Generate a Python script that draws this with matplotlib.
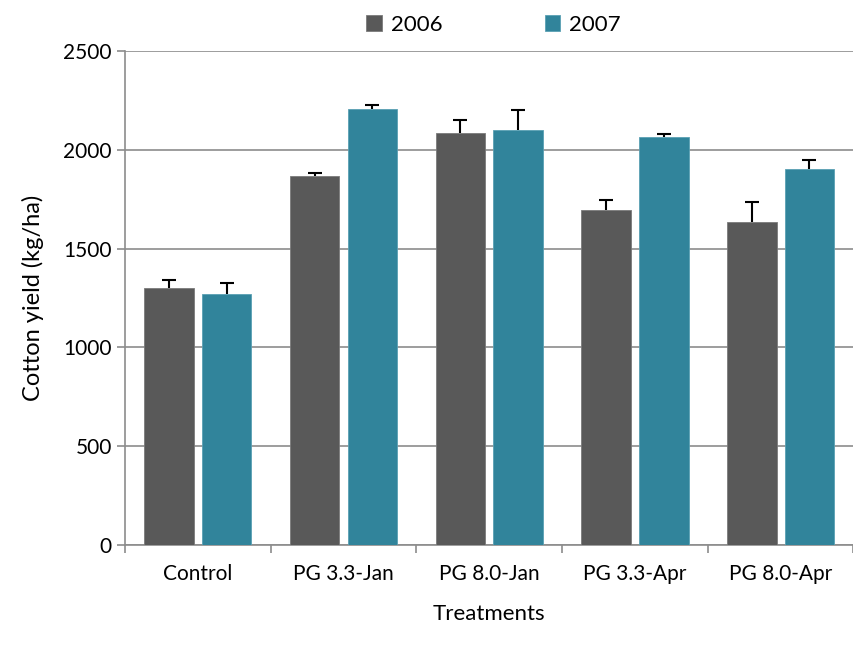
import matplotlib.pyplot as plt
import numpy as np

plt.rcParams['font.family'] = ['Lato', 'DejaVu Sans']

treatments = ["Control", "PG 3.3-Jan", "PG 8.0-Jan", "PG 3.3-Apr", "PG 8.0-Apr"]
yield_2006 = [1300, 1867, 2085, 1695, 1635]
yield_2007 = [1270, 2206, 2100, 2065, 1903]
err_2006 = [40, 15, 65, 50, 100]
err_2007 = [55, 20, 100, 15, 45]

fig = plt.figure(figsize=(8.54, 6.45), dpi=100)
ax = fig.add_axes([0.1464, 0.155, 0.853, 0.766])

x = np.arange(len(treatments))
w = 0.34
off = w / 2 + 0.028
ekw = dict(ecolor="black", elinewidth=1.5, capthick=1.5)
b1 = ax.bar(x - off, yield_2006, w, color="#595959", edgecolor="#7a7a7a", linewidth=0.6,
            yerr=[np.zeros(len(x)), err_2006], capsize=5, error_kw=ekw, label="2006", zorder=3)
b2 = ax.bar(x + off, yield_2007, w, color="#31849B", edgecolor="#5aa0b3", linewidth=0.6,
            yerr=[np.zeros(len(x)), err_2007], capsize=5, error_kw=ekw, label="2007", zorder=3)
# only the upper cap
for b in (b1, b2):
    b.errorbar.lines[1][0].set_visible(False)

ax.set_xlim(-0.5, len(treatments) - 0.5)
ax.set_ylim(0, 2500)
ax.set_yticks(np.arange(0, 2501, 500))
ax.yaxis.grid(True, color="#8c8c8c", linewidth=1.2, zorder=0)
ax.set_axisbelow(True)

ax.set_xticks(x)
ax.set_xticklabels(treatments, fontsize=15)
ax.tick_params(axis="x", length=0, pad=14)
ax.set_xticks(np.arange(-0.5, len(treatments)), minor=True)
ax.tick_params(axis="x", which="minor", length=6, color="#8c8c8c", width=1.2)
ax.tick_params(axis="y", labelsize=15, length=6, color="#8c8c8c", width=1.2)

for s in ["top", "right"]:
    ax.spines[s].set_visible(False)
for s in ["left", "bottom"]:
    ax.spines[s].set_color("#8c8c8c")
    ax.spines[s].set_linewidth(1.2)

ax.set_xlabel("Treatments", fontsize=16, labelpad=14)
ax.set_ylabel("Cotton yield (kg/ha)", fontsize=17, labelpad=14)

fig.legend(loc="upper center", bbox_to_anchor=(0.578, 1.008), ncol=2, frameon=False,
           fontsize=16, handlelength=0.7, handleheight=0.7, handletextpad=0.4,
           columnspacing=4.6)

fig.savefig("out.png", dpi=100)
